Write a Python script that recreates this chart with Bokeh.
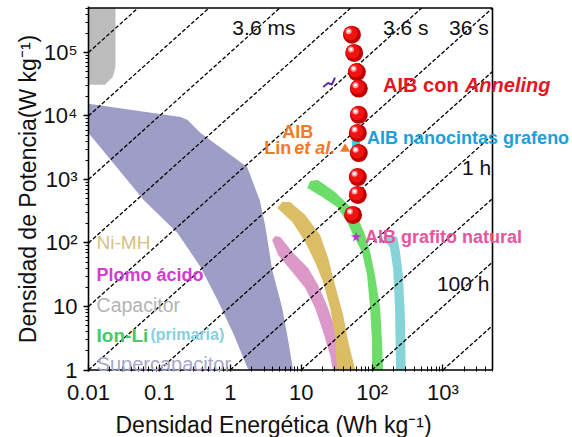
import math
from bokeh.plotting import figure
from bokeh.models import Range1d, FixedTicker, CustomJSTickFormatter, Label, Title
from bokeh.embed import file_html
from bokeh.resources import INLINE

FONT = "Liberation Sans"

# ---------------- data ----------------
# iso-time dashed lines (hours): P = E / t
t_hours = [1e-7, 1e-6, 1e-5, 1e-4, 1e-3, 1e-2, 1e-1, 1, 10, 100, 1000]

x_ticks = [0.01, 0.1, 1, 10, 100, 1000]
y_ticks = [1, 10, 100, 1000, 1e4, 1e5]
X_MIN, X_MAX = 0.01, 5000
Y_MIN, Y_MAX = 1, 5e5

# Capacitor region (gray)
cap_E = [0.01, 0.024, 0.024, 0.022, 0.017, 0.01]
cap_P = [5e5, 5e5, 5.9e4, 4.1e4, 3.1e4, 3.1e4]

# Supercapacitor region (lavender)
sc_E = [0.01, 0.2, 0.25, 0.38, 1.73, 2.6, 3.1, 3.9, 5.4, 6.6, 7.7,
        1.8, 1.1, 0.66, 0.38, 0.18, 0.06, 0.01]
sc_P = [15500, 9600, 8600, 5400, 1570, 475, 190, 38, 9.5, 2.8, 1,
        1, 3.8, 12.6, 42, 144, 475, 5400]

# Ni-MH band (gold)
nimh_E = [4.6, 7.5, 11.4, 15.7, 20.4, 25.6, 30, 32, 58, 46, 39, 30, 24, 18.5, 11.4, 7.0, 5.4]
nimh_P = [356, 214, 104, 50, 24, 9.5, 3.6, 1, 1, 2.8, 7.4, 22, 58, 134, 276, 442, 440]

# Lead acid band (pink)
lead_E = [3.9, 4.7, 7.5, 11.4, 15.7, 20.4, 25.6, 28, 42, 38, 30, 23, 17.3, 12.6, 7.5, 5.1, 4.3]
lead_P = [111, 65, 35, 19.6, 9.5, 4.0, 1.7, 1, 1, 1.9, 4.6, 10.6, 21.8, 40, 72, 124, 129]

# Li-ion band (green)
li_E = [12.2, 19.8, 32, 44.5, 54, 72, 85, 94, 100, 100,
        143, 138, 130, 110, 94, 80, 58, 42, 30, 17.3, 13.4]
li_P = [735, 530, 369, 214, 134, 72, 31, 9.5, 2.8, 1,
        1, 2.8, 9.5, 31, 72, 134, 308, 442, 635, 982, 947]

# primary band (light cyan)
prim_E = [143, 179, 198, 211, 218, 298, 290, 272, 248, 226, 180]
prim_P = [124, 83, 40, 9.5, 1, 1, 7.4, 31, 72, 124, 134]

# AIB con Anneling (red spheres)
sph_E = [52, 56, 61, 65, 65, 63, 65, 63, 63, 54]
sph_P = [1.9e5, 9.8e4, 4.9e4, 2.7e4, 1.04e4, 5.4e3, 2.6e3, 1.09e3, 570, 276]

# other AIB points
lin_E, lin_P = [41.7], [3020]
nano_E, nano_P = [59.6], [3760]
nat_E, nat_P = [59.6], [124]
sq_E, sq_P = [20.4, 24, 27, 30], [2.86e4, 3.3e4, 3.1e4, 4.0e4]
tick2_E, tick2_P = [130, 147], [124, 100]

# ---------------- geometry ----------------
MAIN_W, EXTRA_W = 404, 78      # plotted box width, room for texts on the right
MAIN_H, PAD = 362, 1.5
ppd_x = MAIN_W / math.log10(X_MAX / X_MIN)
ppd_y = MAIN_H / math.log10(Y_MAX / Y_MIN)
x_end = X_MAX * 10 ** (EXTRA_W / ppd_x)
ypad = 10 ** (PAD / ppd_y)

p = figure(frame_width=MAIN_W + EXTRA_W, frame_height=int(MAIN_H + 2 * PAD),
           x_axis_type="log", y_axis_type="log",
           x_range=Range1d(X_MIN, x_end), y_range=Range1d(Y_MIN / ypad, Y_MAX * ypad),
           output_backend="svg", toolbar_location=None,
           min_border_left=88, min_border_right=0,
           min_border_top=6, min_border_bottom=64)
p.background_fill_color = "white"
p.border_fill_color = "white"
p.outline_line_color = None
p.grid.visible = False

# regions
p.patch(cap_E, cap_P, fill_color="#bcbcbc", line_color=None)
p.patch(sc_E, sc_P, fill_color="#9d9dc6", line_color=None)
p.patch(lead_E, lead_P, fill_color="#dc98c8", line_color=None)
p.patch(nimh_E, nimh_P, fill_color="#dbbd66", line_color=None)
p.patch(li_E, li_P, fill_color="#6ddd6a", line_color=None)
p.patch(prim_E, prim_P, fill_color="#86d3d8", line_color=None)

# iso-time lines, limited to the plotted box
xs, ys = [], []
for t in t_hours:
    e0 = max(X_MIN, t * Y_MIN)
    e1 = min(X_MAX, t * Y_MAX)
    xs.append([e0, e1])
    ys.append([e0 / t, e1 / t])
p.multi_line(xs, ys, line_color="black", line_width=1.3, line_dash="4 2")

# box border (bottom, top, right)
p.line([X_MIN, X_MAX], [Y_MIN, Y_MIN], line_color="black", line_width=1.6)
p.line([X_MIN, X_MAX], [Y_MAX, Y_MAX], line_color="black", line_width=1.6)
p.line([X_MAX, X_MAX], [Y_MIN, Y_MAX], line_color="black", line_width=1.6)

# small markers
p.line(sq_E, sq_P, line_color="#5a2ca0", line_width=2)
p.line(tick2_E, tick2_P, line_color="#7a3cc0", line_width=1.5)
p.scatter(lin_E, lin_P, marker="triangle", size=10, fill_color="#f07a28", line_color=None)
p.scatter(nano_E, nano_P, marker="square", size=8, fill_color="#2ed0e6", line_color=None)
p.scatter(nat_E, nat_P, marker="star", size=11, fill_color="#b03cc8", line_color=None)

# red spheres (layered to look shaded)
p.scatter(sph_E, sph_P, marker="circle", size=18, fill_color="#c00000", line_color=None)
p.scatter([e * 0.955 for e in sph_E], [v * 1.055 for v in sph_P], marker="circle",
          size=14, fill_color="#f21212", line_color=None)
p.scatter([e * 0.90 for e in sph_E], [v * 1.13 for v in sph_P], marker="circle",
          size=6, fill_color="#ff9a9a", line_color=None)
p.scatter([e * 0.895 for e in sph_E], [v * 1.14 for v in sph_P], marker="circle",
          size=3, fill_color="white", line_color=None)

# ---------------- axes ----------------
minor_x = [m * 10.0 ** d for d in range(-2, 4) for m in range(2, 10) if m * 10.0 ** d <= X_MAX]
minor_y = [m * 10.0 ** d for d in range(0, 6) for m in range(2, 10) if m * 10.0 ** d <= Y_MAX]
p.xaxis.ticker = FixedTicker(ticks=x_ticks, minor_ticks=minor_x)
p.yaxis.ticker = FixedTicker(ticks=y_ticks, minor_ticks=minor_y)

fmt_code = """
const e = Math.round(Math.log10(tick));
const sup = {2: "\u00b2", 3: "\u00b3", 4: "\u2074", 5: "\u2075"};
if (e < 2) { return String(tick); }
return "10" + sup[e];
"""
p.xaxis.formatter = CustomJSTickFormatter(code=fmt_code)
p.yaxis.formatter = CustomJSTickFormatter(code=fmt_code)

p.yaxis.axis_label = "Densidad de Potencia(W kg\u207b\u00b9)"

for ax in (p.xaxis[0], p.yaxis[0]):
    ax.axis_line_width = 1.6
    ax.axis_line_color = "black"
    ax.major_tick_line_color = "black"
    ax.minor_tick_line_color = "black"
    ax.major_tick_line_width = 1.3
    ax.minor_tick_line_width = 1.0
    ax.major_label_text_font = FONT
    ax.major_label_text_font_size = "22px"
    ax.major_label_text_color = "#111111"
    ax.axis_label_text_font = FONT
    ax.axis_label_text_font_size = "23px"
    ax.axis_label_text_font_style = "normal"
    ax.axis_label_text_color = "#111111"

p.xaxis.axis_line_color = None
p.xaxis.major_tick_in = 7
p.xaxis.major_tick_out = 0
p.xaxis.minor_tick_in = 5
p.xaxis.minor_tick_out = 0
p.xaxis.major_label_standoff = 8

p.yaxis.major_tick_in = 0
p.yaxis.major_tick_out = 5
p.yaxis.minor_tick_in = 0
p.yaxis.minor_tick_out = 3
p.yaxis.major_label_standoff = 6
p.yaxis.axis_label_standoff = 0

# x axis title, aligned with the plotted box (not the wider frame)
p.add_layout(Title(text="Densidad Energética (Wh kg\u207b\u00b9)", align="left", offset=27,
                   text_font=FONT, text_font_size="23px", text_font_style="normal",
                   text_color="#111111", standoff=5), "below")


def lab(x, y, text, color, size, style="normal", align="left"):
    p.add_layout(Label(x=x, y=y, x_units="data", y_units="data", text=text,
                       text_font=FONT, text_font_size=size, text_color=color,
                       text_font_style=style, text_align=align,
                       text_baseline="alphabetic"))


# iso-time labels
lab(1.07, 2.43e5, "3.6 ms", "#111111", "21px")
lab(143, 2.43e5, "3.6 s", "#111111", "21px")
lab(1216, 2.43e5, "36 s", "#111111", "21px")
lab(1854, 1518, "1 h", "#111111", "21px")
lab(822, 23.4, "100 h", "#111111", "21px")

# region labels
lab(0.013, 100, "Ni-MH", "#d6c27c", "19px")
lab(0.013, 31.3, "Plomo ácido", "#d43cd4", "18px", "bold")
lab(0.013, 10.6, "Capacitor", "#b4b4b4", "19.5px")
lab(0.013, 3.43, "Ion-Li", "#48c868", "19px", "bold")
lab(0.0747, 3.56, "(primaria)", "#86d0e0", "16px", "bold")
lab(0.013, 1.24, "Supercapacitor", "#a6a6cc", "20px")

# AIB labels
lab(143, 3.08e4, "AIB con", "#e8141e", "20px", "bold")
lab(2042, 3.08e4, "Anneling", "#e8141e", "20px", "bold italic")
lab(85.1, 4.5e3, "AIB nanocintas grafeno", "#1ba0dc", "18px", "bold")
lab(79.6, 124, "AIB grafito natural", "#e8549e", "18px", "bold")
lab(5.4, 5.6e3, "AIB", "#f07a28", "18px", "bold")
lab(3.01, 3.13e3, "Lin", "#f07a28", "18px", "bold")
lab(7.96, 3.13e3, "et al.", "#f07a28", "18px", "bold italic")

open("out.html", "w").write(file_html(p, INLINE))
